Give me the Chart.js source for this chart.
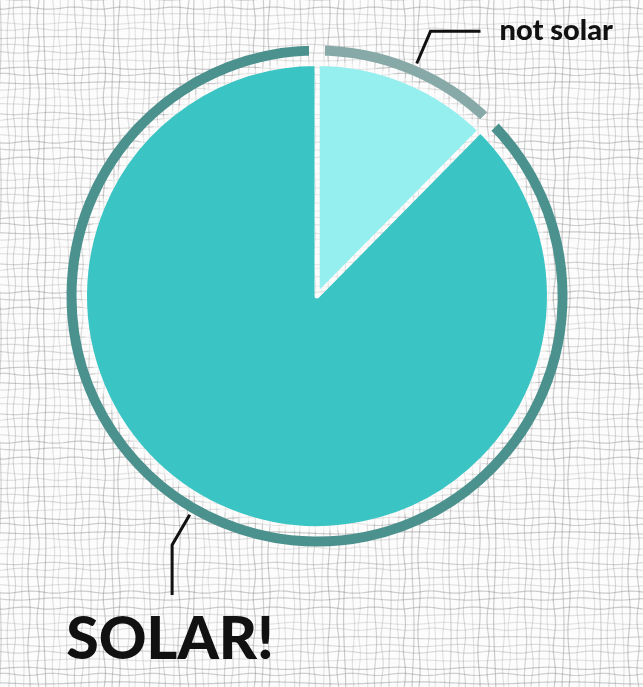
<!DOCTYPE html>
<html>
<head>
<meta charset="utf-8">
<script src="https://cdn.jsdelivr.net/npm/chart.js@4.4.1/dist/chart.umd.min.js"></script>
<style>
  html, body { margin: 0; padding: 0; background: #fbfbfb; overflow: hidden; }
  canvas { display: block; }
</style>
</head>
<body>
<canvas id="c" width="643" height="687"></canvas>
<script>
// share of energy
const labels = ['not solar', 'SOLAR!'];
const shares = [12.4, 87.6];

const pieColors = ['#95efef', '#3ac5c4'];
const ringColors = ['#87a9a7', '#4b918d'];

const canvas = document.getElementById('c');
const ctx = canvas.getContext('2d');

// hand-drawn looking grid paper, one tile repeated
function makeTile(strength) {
  const size = 150, step = 7.5;
  const t = document.createElement('canvas');
  t.width = t.height = size;
  const g = t.getContext('2d');
  g.fillStyle = '#fcfcfc';
  g.fillRect(0, 0, size, size);
  const shades = [0.45, 0.3, 0.55, 0.35, 0.25, 0.5, 0.4, 0.3, 0.55, 0.28];
  const jit = [0, 0.8, -0.6, 0.4, -1, 0.6, -0.3, 1, -0.7, 0.2, 0.5, -0.4];
  g.lineWidth = 1.2;
  for (let i = 0; i < size / step; i++) {
    for (const dir of [0, 1]) {
      const a = shades[(i * 3 + dir * 5) % shades.length] * strength;
      g.strokeStyle = 'rgba(115,115,115,' + a + ')';
      const base = i * step + jit[(i + dir * 4) % jit.length];
      for (const shift of [-size, 0, size]) {
        g.beginPath();
        for (let s = 0; s <= size; s += 3) {
          const w = base + shift + 1.1 * Math.sin(2 * Math.PI * s / size * (1 + (i + dir) % 3) + i * 1.7);
          if (dir === 0) { s === 0 ? g.moveTo(w, s) : g.lineTo(w, s); }
          else { s === 0 ? g.moveTo(s, w) : g.lineTo(s, w); }
        }
        g.stroke();
      }
    }
  }
  return ctx.createPattern(t, 'repeat');
}

const paper = makeTile(0.65);
const paperLight = makeTile(0.3);

const background = {
  id: 'background',
  beforeDraw(chart) {
    const c = chart.ctx;
    c.save();
    c.fillStyle = paper;
    c.fillRect(0, 0, chart.width, chart.height);
    c.restore();
  }
};

// callout lines and labels
const callouts = {
  id: 'callouts',
  afterDraw(chart) {
    const c = chart.ctx;
    const arcs = chart.getDatasetMeta(1).data;
    const specs = [
      { font: '900 29px Lato', along: 0.52, side: 'right' },
      { font: '900 59px Lato', along: 0.525, side: 'down' }
    ];
    c.save();
    c.strokeStyle = '#111';
    c.fillStyle = '#111';
    c.lineWidth = 3;
    c.lineJoin = 'miter';
    arcs.forEach((arc, i) => {
      const sp = specs[i];
      const a = arc.startAngle + (arc.endAngle - arc.startAngle) * sp.along;
      const x0 = arc.x + Math.cos(a) * 253, y0 = arc.y + Math.sin(a) * 253;
      const x1 = arc.x + Math.cos(a) * 288, y1 = arc.y + Math.sin(a) * 288;
      c.beginPath();
      c.moveTo(x0, y0);
      c.lineTo(x1, y1);
      c.font = sp.font;
      if (sp.side === 'right') {
        c.lineTo(x1 + 50, y1);
        c.stroke();
        c.textAlign = 'left';
        c.textBaseline = 'alphabetic';
        c.fillText(labels[i], x1 + 69, y1 + 9);
      } else {
        c.lineTo(x1, y1 + 50);
        c.stroke();
        c.textAlign = 'center';
        c.textBaseline = 'alphabetic';
        c.fillText(labels[i], x1 - 2, y1 + 114);
      }
    });
    c.restore();
  }
};

new Chart(ctx, {
  type: 'pie',
  data: {
    labels: labels,
    datasets: [
      {
        // outer ring, drawn first so the pie sits above its border
        data: shares,
        backgroundColor: ringColors,
        borderColor: paper,
        borderWidth: 16,
        borderAlign: 'center',
        weight: 26,
        order: 1
      },
      {
        data: shares,
        backgroundColor: pieColors,
        borderColor: paperLight,
        borderWidth: 5,
        borderJoinStyle: 'round',
        weight: 232.5,
        order: 0
      }
    ]
  },
  options: {
    responsive: false,
    animation: false,
    devicePixelRatio: 1,
    events: [],
    radius: 258.5,
    layout: { padding: { left: 0, right: 9, top: 0, bottom: 95 } },
    plugins: {
      legend: { display: false },
      tooltip: { enabled: false }
    }
  },
  plugins: [background, callouts]
});
</script>
</body>
</html>
